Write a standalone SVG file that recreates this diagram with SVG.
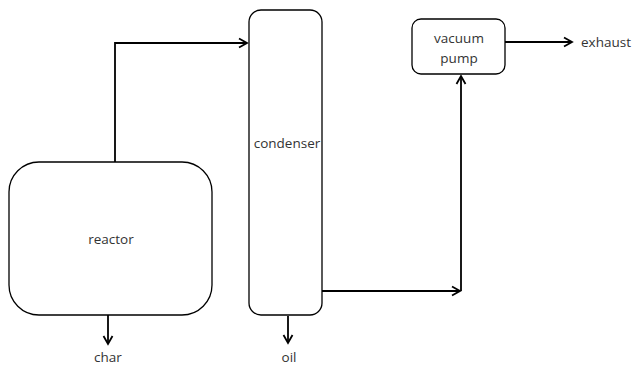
<svg xmlns="http://www.w3.org/2000/svg" width="642" height="367" viewBox="0 0 642 367">
<defs>
<marker id="arr" markerWidth="12" markerHeight="12" refX="10" refY="6" orient="auto" markerUnits="userSpaceOnUse">
<path d="M2,1.5 L10,6 L2,10.5" fill="none" stroke="#000" stroke-width="1.8"/>
</marker>
<style>
.box{fill:#fff;stroke:#000;stroke-width:1.3}
.lbl{font-family:"Open Sans","Liberation Sans",sans-serif;font-size:13.5px;fill:#333;text-anchor:middle}
.ln{fill:none;stroke:#000;stroke-width:1.8}
</style>
</defs>
<rect width="642" height="367" fill="#fff"/>
<g id="connectors">
<path class="ln" d="M115,162 V43 H247" marker-end="url(#arr)"/>
<path class="ln" d="M322,291 H460" marker-end="url(#arr)"/>
<path class="ln" d="M461,291 V76" marker-end="url(#arr)"/>
<path class="ln" d="M505,42 H572" marker-end="url(#arr)"/>
<path class="ln" d="M108,315 V344" marker-end="url(#arr)"/>
<path class="ln" d="M288,316 V343" marker-end="url(#arr)"/>
</g>
<g id="reactor">
<rect class="box" x="9" y="162" width="203" height="153" rx="30" ry="30"/>
<text class="lbl" x="111" y="244">reactor</text>
</g>
<g id="condenser">
<rect class="box" x="249" y="10" width="73" height="305" rx="12" ry="12"/>
<text class="lbl" x="287" y="148">condenser</text>
</g>
<g id="vacuum-pump">
<rect class="box" x="412" y="19" width="93" height="55" rx="9" ry="9"/>
<text class="lbl" x="459" y="43">vacuum</text>
<text class="lbl" x="459" y="63">pump</text>
</g>
<g id="exhaust"><text class="lbl" x="606" y="47">exhaust</text></g>
<g id="char"><text class="lbl" x="108" y="362">char</text></g>
<g id="oil"><text class="lbl" x="289" y="362">oil</text></g>
</svg>
